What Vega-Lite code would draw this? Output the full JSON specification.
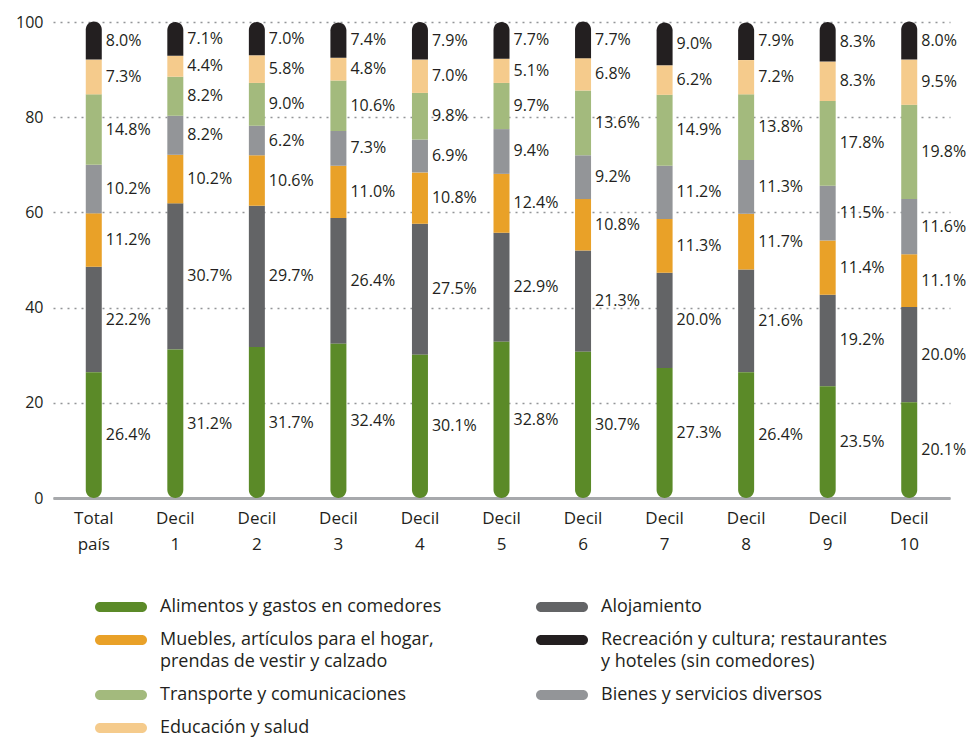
{
  "$schema": "https://vega.github.io/schema/vega-lite/v6.json",
  "width": 897,
  "height": 476,
  "autosize": {"type": "none"},
  "padding": {"left": 53, "top": 22, "right": 16, "bottom": 240},
  "background": "white",
  "config": {
    "view": {"stroke": null},
    "font": "Open Sans",
    "text": {"font": "Open Sans"}
  },
  "data": {
    "values": [
      {"grupo": "Total país", "Alimentos y gastos en comedores": 26.4, "Alojamiento": 22.2, "Muebles, artículos para el hogar, prendas de vestir y calzado": 11.2, "Bienes y servicios diversos": 10.2, "Transporte y comunicaciones": 14.8, "Educación y salud": 7.3, "Recreación y cultura; restaurantes y hoteles (sin comedores)": 8.0},
      {"grupo": "Decil 1", "Alimentos y gastos en comedores": 31.2, "Alojamiento": 30.7, "Muebles, artículos para el hogar, prendas de vestir y calzado": 10.2, "Bienes y servicios diversos": 8.2, "Transporte y comunicaciones": 8.2, "Educación y salud": 4.4, "Recreación y cultura; restaurantes y hoteles (sin comedores)": 7.1},
      {"grupo": "Decil 2", "Alimentos y gastos en comedores": 31.7, "Alojamiento": 29.7, "Muebles, artículos para el hogar, prendas de vestir y calzado": 10.6, "Bienes y servicios diversos": 6.2, "Transporte y comunicaciones": 9.0, "Educación y salud": 5.8, "Recreación y cultura; restaurantes y hoteles (sin comedores)": 7.0},
      {"grupo": "Decil 3", "Alimentos y gastos en comedores": 32.4, "Alojamiento": 26.4, "Muebles, artículos para el hogar, prendas de vestir y calzado": 11.0, "Bienes y servicios diversos": 7.3, "Transporte y comunicaciones": 10.6, "Educación y salud": 4.8, "Recreación y cultura; restaurantes y hoteles (sin comedores)": 7.4},
      {"grupo": "Decil 4", "Alimentos y gastos en comedores": 30.1, "Alojamiento": 27.5, "Muebles, artículos para el hogar, prendas de vestir y calzado": 10.8, "Bienes y servicios diversos": 6.9, "Transporte y comunicaciones": 9.8, "Educación y salud": 7.0, "Recreación y cultura; restaurantes y hoteles (sin comedores)": 7.9},
      {"grupo": "Decil 5", "Alimentos y gastos en comedores": 32.8, "Alojamiento": 22.9, "Muebles, artículos para el hogar, prendas de vestir y calzado": 12.4, "Bienes y servicios diversos": 9.4, "Transporte y comunicaciones": 9.7, "Educación y salud": 5.1, "Recreación y cultura; restaurantes y hoteles (sin comedores)": 7.7},
      {"grupo": "Decil 6", "Alimentos y gastos en comedores": 30.7, "Alojamiento": 21.3, "Muebles, artículos para el hogar, prendas de vestir y calzado": 10.8, "Bienes y servicios diversos": 9.2, "Transporte y comunicaciones": 13.6, "Educación y salud": 6.8, "Recreación y cultura; restaurantes y hoteles (sin comedores)": 7.7},
      {"grupo": "Decil 7", "Alimentos y gastos en comedores": 27.3, "Alojamiento": 20.0, "Muebles, artículos para el hogar, prendas de vestir y calzado": 11.3, "Bienes y servicios diversos": 11.2, "Transporte y comunicaciones": 14.9, "Educación y salud": 6.2, "Recreación y cultura; restaurantes y hoteles (sin comedores)": 9.0},
      {"grupo": "Decil 8", "Alimentos y gastos en comedores": 26.4, "Alojamiento": 21.6, "Muebles, artículos para el hogar, prendas de vestir y calzado": 11.7, "Bienes y servicios diversos": 11.3, "Transporte y comunicaciones": 13.8, "Educación y salud": 7.2, "Recreación y cultura; restaurantes y hoteles (sin comedores)": 7.9},
      {"grupo": "Decil 9", "Alimentos y gastos en comedores": 23.5, "Alojamiento": 19.2, "Muebles, artículos para el hogar, prendas de vestir y calzado": 11.4, "Bienes y servicios diversos": 11.5, "Transporte y comunicaciones": 17.8, "Educación y salud": 8.3, "Recreación y cultura; restaurantes y hoteles (sin comedores)": 8.3},
      {"grupo": "Decil 10", "Alimentos y gastos en comedores": 20.1, "Alojamiento": 20.0, "Muebles, artículos para el hogar, prendas de vestir y calzado": 11.1, "Bienes y servicios diversos": 11.6, "Transporte y comunicaciones": 19.8, "Educación y salud": 9.5, "Recreación y cultura; restaurantes y hoteles (sin comedores)": 8.0}
    ]
  },
  "transform": [
    {"fold": ["Alimentos y gastos en comedores", "Alojamiento", "Muebles, artículos para el hogar, prendas de vestir y calzado", "Bienes y servicios diversos", "Transporte y comunicaciones", "Educación y salud", "Recreación y cultura; restaurantes y hoteles (sin comedores)"], "as": ["categoria", "valor"]},
    {"calculate": "indexof(['Alimentos y gastos en comedores', 'Alojamiento', 'Muebles, artículos para el hogar, prendas de vestir y calzado', 'Bienes y servicios diversos', 'Transporte y comunicaciones', 'Educación y salud', 'Recreación y cultura; restaurantes y hoteles (sin comedores)'], datum.categoria)", "as": "orden"},
    {"stack": "valor", "groupby": ["grupo"], "sort": [{"field": "orden", "order": "ascending"}], "as": ["y0", "y1"]},
    {"calculate": "(datum.y0 + datum.y1) / 2", "as": "medio"},
    {"calculate": "format(datum.valor, '.1f') + '%'", "as": "etiqueta"}
  ],
  "encoding": {
    "x": {
      "field": "grupo",
      "type": "nominal",
      "sort": ["Total país", "Decil 1", "Decil 2", "Decil 3", "Decil 4", "Decil 5", "Decil 6", "Decil 7", "Decil 8", "Decil 9", "Decil 10"],
      "scale": {"paddingInner": 0, "paddingOuter": 0},
      "axis": {
        "title": null,
        "labelAngle": 0,
        "labelExpr": "split(datum.label, ' ')",
        "labelFont": "Open Sans",
        "labelFontSize": 17,
        "labelLineHeight": 26,
        "labelColor": "#231f20",
        "labelPadding": 12,
        "ticks": false,
        "domainColor": "#a7a9ac",
        "domainWidth": 3
      }
    }
  },
  "layer": [
    {
      "transform": [{"filter": "datum.orden > 0 && datum.orden < 6"}],
      "mark": {"type": "bar", "size": 16},
      "encoding": {
        "y": {
          "field": "y0",
          "type": "quantitative",
          "scale": {"domain": [0, 100], "nice": false},
          "axis": {
            "title": null,
            "values": [0, 20, 40, 60, 80, 100],
            "grid": true,
            "gridDash": [2, 5],
            "gridColor": "#939598",
            "gridWidth": 1.5,
            "domain": false,
            "ticks": false,
            "labelPadding": 10,
            "labelFont": "Open Sans",
            "labelFontSize": 16,
            "labelColor": "#231f20"
          }
        },
        "y2": {"field": "y1"},
        "color": {
          "field": "categoria",
          "type": "nominal",
          "scale": {
            "domain": ["Alimentos y gastos en comedores", "Muebles, artículos para el hogar, prendas de vestir y calzado", "Transporte y comunicaciones", "Educación y salud", "Alojamiento", "Recreación y cultura; restaurantes y hoteles (sin comedores)", "Bienes y servicios diversos"],
            "range": ["#5b8a28", "#e9a128", "#a3ba7d", "#f5cb8c", "#636466", "#231f20", "#939598"]
          },
          "legend": {
            "title": null,
            "orient": "none",
            "legendX": 59,
            "legendY": 576,
            "columns": 2,
            "columnPadding": 94,
            "rowPadding": 15,
            "padding": 0,
            "symbolType": "M-4.2,-1 L4.2,-1 A1,1 0 0 1 4.2,1 L-4.2,1 A1,1 0 0 1 -4.2,-1 Z",
            "symbolSize": 100,
            "symbolStrokeWidth": 0,
            "labelOffset": 30,
            "labelFont": "Open Sans",
            "labelFontSize": 18,
            "labelColor": "#231f20",
            "labelLimit": 450,
            "labelExpr": "datum.label == 'Muebles, artículos para el hogar, prendas de vestir y calzado' ? ['Muebles, artículos para el hogar,', 'prendas de vestir y calzado'] : datum.label == 'Recreación y cultura; restaurantes y hoteles (sin comedores)' ? ['Recreación y cultura; restaurantes', 'y hoteles (sin comedores)'] : datum.label",
            "encode": {"labels": {"update": {"lineHeight": {"value": 22}}}}
          }
        }
      }
    },
    {
      "transform": [{"filter": "datum.orden == 0"}],
      "mark": {"type": "bar", "size": 16, "cornerRadiusBottomLeft": 8, "cornerRadiusBottomRight": 8},
      "encoding": {
        "y": {"field": "y0", "type": "quantitative"},
        "y2": {"field": "y1"},
        "color": {"field": "categoria", "type": "nominal"}
      }
    },
    {
      "transform": [{"filter": "datum.orden == 6"}],
      "mark": {"type": "bar", "size": 16, "cornerRadiusTopLeft": 8, "cornerRadiusTopRight": 8},
      "encoding": {
        "y": {"field": "y0", "type": "quantitative"},
        "y2": {"field": "y1"},
        "color": {"field": "categoria", "type": "nominal"}
      }
    },
    {
      "mark": {"type": "text", "align": "left", "baseline": "middle", "dx": 12, "font": "Open Sans", "fontSize": 16, "color": "#231f20"},
      "encoding": {
        "y": {"field": "medio", "type": "quantitative"},
        "text": {"field": "etiqueta"}
      }
    }
  ]
}
